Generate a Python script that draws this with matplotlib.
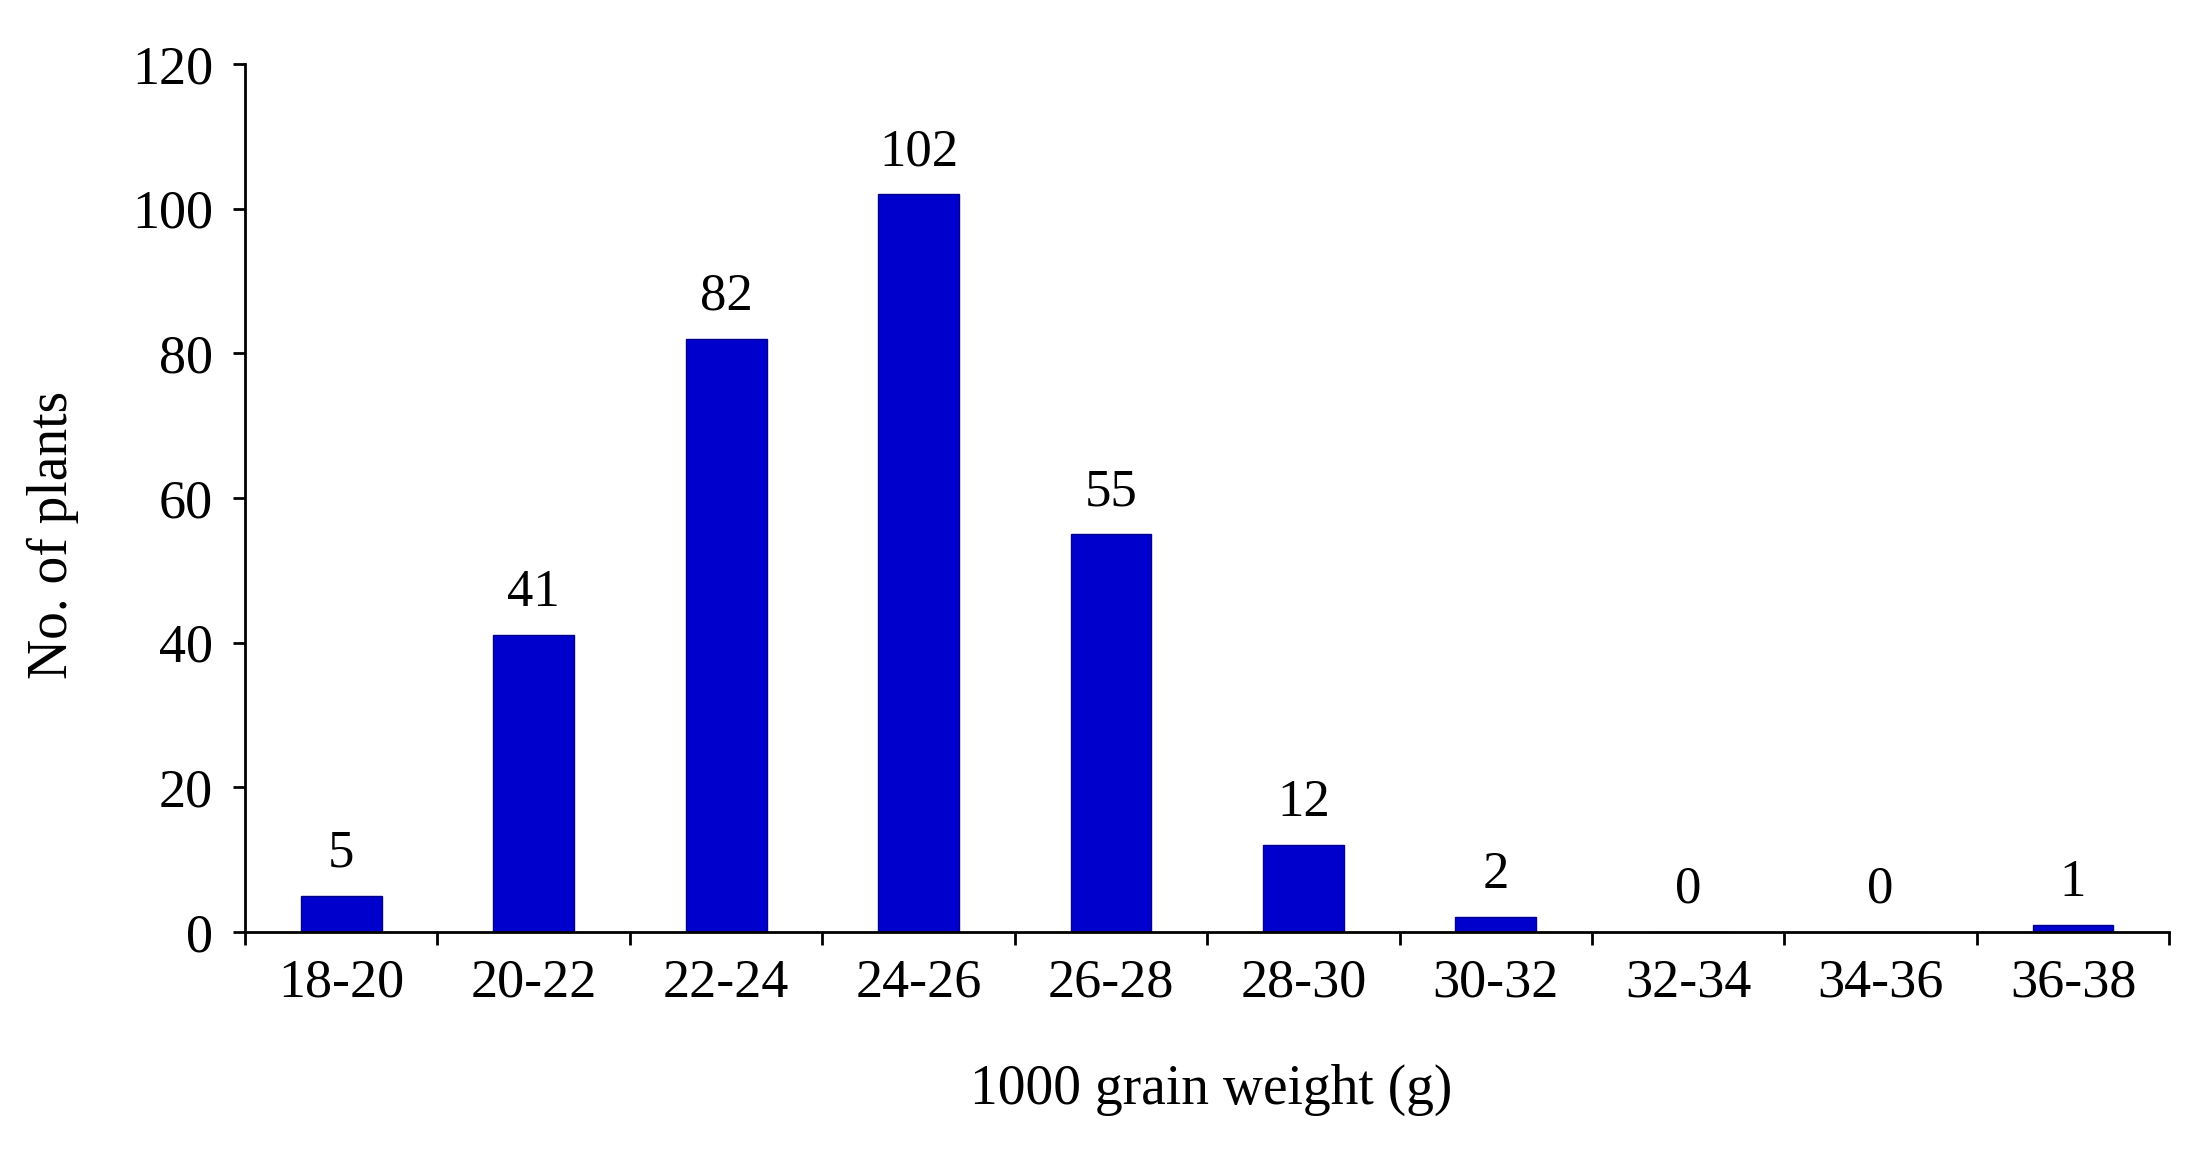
import numpy as np
import matplotlib.pyplot as plt

plt.rcParams['font.family'] = ['Liberation Serif', 'DejaVu Serif']

bins = ["18-20", "20-22", "22-24", "24-26", "26-28", "28-30", "30-32", "32-34", "34-36", "36-38"]
plants = [5, 41, 82, 102, 55, 12, 2, 0, 0, 1]

fig = plt.figure(figsize=(22.06, 11.51), dpi=100)
ax = fig.add_axes([0.1111, 0.1903, 0.8722, 0.7541])

x = np.arange(len(bins))
ax.bar(x, plants, width=0.42, color="#0000CC", edgecolor="#00008B", linewidth=1)

for xi, v in zip(x, plants):
    ax.annotate(str(v), (xi, v), xytext=(0, 13), textcoords="offset points",
                ha="center", va="bottom", fontsize=38)

ax.set_xlim(-0.5, len(bins) - 0.5)
ax.set_ylim(0, 120)
ax.set_yticks(range(0, 121, 20))
ax.tick_params(axis="y", labelsize=39, length=9, width=2, pad=14)

# ticks sit on the category boundaries, labels in the middle
ax.set_xticks(np.arange(len(bins) + 1) - 0.5)
ax.set_xticklabels([])
ax.set_xticks(x, minor=True)
ax.set_xticklabels(bins, minor=True)
ax.tick_params(axis="x", which="major", length=9, width=2)
ax.tick_params(axis="x", which="minor", length=0, labelsize=39, pad=19)

for s in ["top", "right"]:
    ax.spines[s].set_visible(False)
for s in ["left", "bottom"]:
    ax.spines[s].set_linewidth(2)

ax.set_xlabel("1000 grain weight (g)", fontsize=40)
ax.set_ylabel("No. of plants", fontsize=40)
ax.xaxis.set_label_coords(0.502, -0.152)
ax.yaxis.set_label_coords(-0.0864, 0.457)

fig.savefig("out.png", dpi=100)
